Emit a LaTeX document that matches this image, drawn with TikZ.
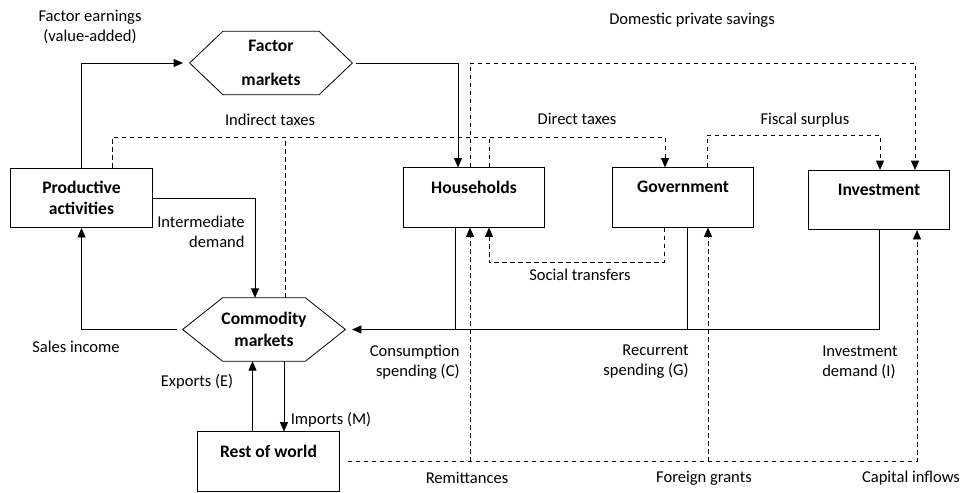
\documentclass[tikz,border=0pt]{standalone}
\usepackage{fontspec}
\setmainfont{Carlito}
\usetikzlibrary{arrows.meta, calc}

\begin{document}
\begin{tikzpicture}[x=0.75pt, y=-0.75pt, line width=0.6pt, inner sep=0pt,
    font=\fontsize{12.4pt}{15pt}\selectfont,
    >={Triangle[length=7pt, width=6pt]},
    box/.style={draw, minimum width=106pt, minimum height=44.5pt, align=center,
      font=\fontsize{13.2pt}{16pt}\selectfont\bfseries},
    mkt/.style={minimum width=121.5pt, minimum height=47pt, align=center,
      font=\fontsize{13.2pt}{16pt}\selectfont\bfseries},
    dline/.style={dash pattern=on 3.5pt off 2.5pt},
    dflow/.style={->, dline}]
    \useasboundingbox (0,0) rectangle (962,492);

    \node[mkt] (factor) at (271,63) {Factor\\[10pt]markets};
    \node[mkt] (comm) at (264,329.5) {Commodity\\markets};
    \draw (factor.west) -- ([xshift=25pt]factor.north west) -- ([xshift=-25pt]factor.north east) -- (factor.east)
      -- ([xshift=-25pt]factor.south east) -- ([xshift=25pt]factor.south west) -- cycle;
    \draw (comm.west) -- ([xshift=30pt]comm.north west) -- ([xshift=-30pt]comm.north east) -- (comm.east)
      -- ([xshift=-30pt]comm.south east) -- ([xshift=30pt]comm.south west) -- cycle;

    \node[box] (prod) at (81.5,198) {Productive\\activities};
    \node[box] (hh) at (474,197.5) {Households\\\mbox{}};
    \node[box] (gov) at (683,197.5) {Government\\\mbox{}};
    \node[box] (inv) at (879,200) {Investment\\\mbox{}};
    \node[box] (row) at (268.5,461.5) {Rest of world\\\mbox{}};

    \node (lfe) at (90,27) [align=center] {Factor earnings\\(value-added)};
    \node (lds) at (692,20) {Domestic private savings};
    \node (lit) at (270,120) {Indirect taxes};
    \node (ldt) at (577,119) {Direct taxes};
    \node (lfs) at (805,120) {Fiscal surplus};
    \node (lid) at (245,232) [anchor=east, align=right] {Intermediate\\demand};
    \node (lsi) at (76,347) {Sales income};
    \node (lcs) at (460,362) [anchor=east, align=right] {Consumption\\spending (C)};
    \node (lrs) at (689,362) [anchor=east, align=right] {Recurrent\\spending (G)};
    \node (lin) at (860,362) [align=left] {Investment\\demand (I)};
    \node (lex) at (197,382) {Exports (E)};
    \node (lim) at (331,420) {Imports (M)};
    \node (lst) at (580,275) {Social transfers};
    \node (lre) at (467,478) {Remittances};
    \node (lfg) at (704,478) {Foreign grants};
    \node (lci) at (911,478) {Capital inflows};

    % factor incomes and savings
    \draw[->, shorten >=5pt] (prod.north) |- (factor.west);
    \draw[->, shorten <=3pt] (factor.east) -| ($(hh.north)+(-16,0)$);
    \coordinate (sav) at (915,63);
    \draw[dflow] ($(hh.north)+(-4,0)$) |- (sav) -- (sav |- inv.north);

    % taxes
    \coordinate (tax) at (665,137);
    \draw[dflow] ($(prod.north)+(31,0)$) |- (tax) -- (tax |- gov.north);
    \coordinate (itx) at ($(comm.north)+(21,0)$);
    \draw[dline] (itx) -- (itx |- tax);
    \coordinate (dtx) at ($(hh.north)+(15,0)$);
    \draw[dline] (dtx) -- (dtx |- tax);
    \coordinate (fsu) at (880,135);
    \draw[dflow] ($(gov.north)+(24,0)$) |- (fsu) -- (fsu |- inv.north);

    % commodity flows
    \draw[->] (prod.east) -| ($(comm.north)+(-9,0)$);
    \draw[->, shorten <=4pt] (comm.west) -| (prod.south);
    \draw[->, shorten >=5pt] (inv.south) |- (comm.east);
    \coordinate (cs) at ($(hh.south)+(-19,0)$);
    \draw (cs) -- (cs |- comm.east);
    \coordinate (rs) at ($(gov.south)+(4,0)$);
    \draw (rs) -- (rs |- comm.east);
    \coordinate (st) at ($(gov.south)+(-19,0)$);
    \draw[dflow] (st) -- ++(0,35) -| ($(hh.south)+(15,0)$);

    % rest of world
    \draw[dflow, shorten <=6pt] (row.east) -| ($(inv.south)+(38,0)$);
    \coordinate (rem) at ($(hh.south)+(-4,0)$);
    \draw[dflow] (rem |- row.east) -- (rem);
    \coordinate (fgr) at ($(gov.south)+(25,0)$);
    \draw[dflow] (fgr |- row.east) -- (fgr);
    \coordinate (ex) at ($(row.north)+(-16,0)$);
    \draw[->] (ex) -- (ex |- comm.south);
    \coordinate (im) at ($(comm.south)+(20,0)$);
    \draw[->] (im) -- (im |- row.north);
\end{tikzpicture}
\end{document}
